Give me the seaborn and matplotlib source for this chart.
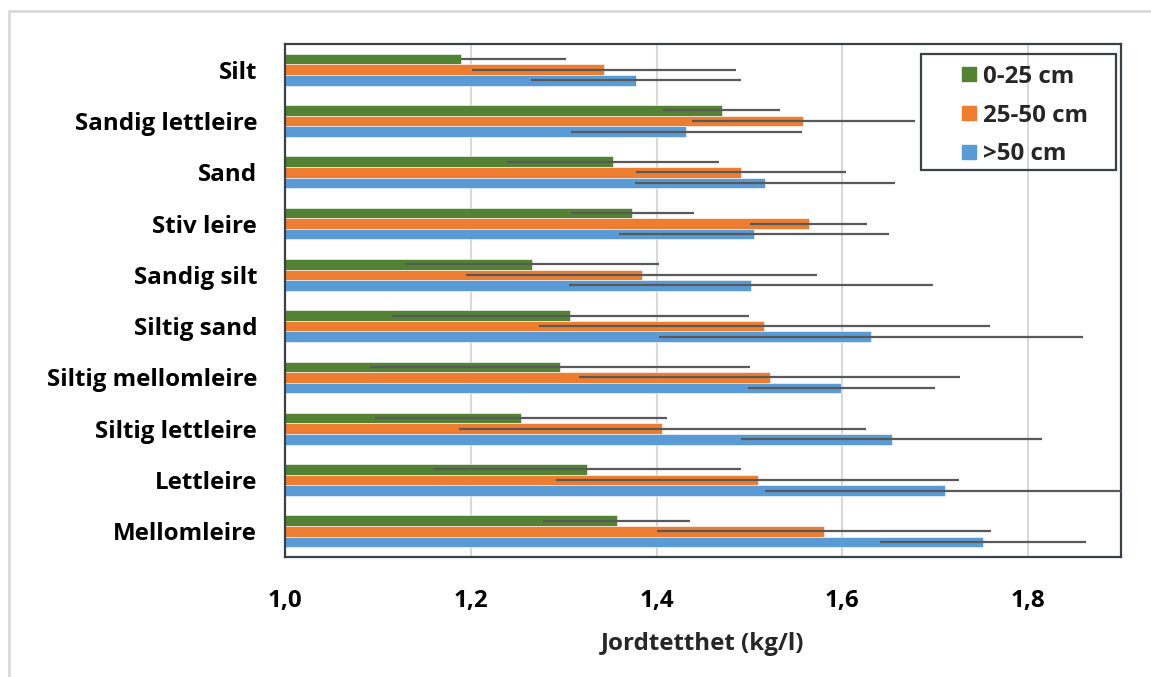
import numpy as np
import pandas as pd
import seaborn as sns
import matplotlib.pyplot as plt
from matplotlib.lines import Line2D
from matplotlib.patches import Rectangle
from matplotlib.ticker import FuncFormatter, MultipleLocator

# Soil texture classes (top to bottom) and depth intervals
soil_types = ["Silt", "Sandig lettleire", "Sand", "Stiv leire", "Sandig silt",
              "Siltig sand", "Siltig mellomleire", "Siltig lettleire",
              "Lettleire", "Mellomleire"]
depths = ["0-25 cm", "25-50 cm", ">50 cm"]

# Mean bulk density (kg/l) per depth interval
density_0_25 = [1.190, 1.470, 1.353, 1.374, 1.266, 1.307, 1.296, 1.254, 1.325, 1.357]
density_25_50 = [1.343, 1.558, 1.491, 1.564, 1.384, 1.516, 1.522, 1.406, 1.509, 1.580]
density_50 = [1.378, 1.432, 1.517, 1.505, 1.502, 1.631, 1.599, 1.653, 1.711, 1.751]

# Error bar extents below / above the mean
err_lo_0_25 = [0.000, 0.063, 0.114, 0.066, 0.137, 0.192, 0.205, 0.157, 0.166, 0.079]
err_hi_0_25 = [0.112, 0.063, 0.114, 0.066, 0.137, 0.192, 0.205, 0.157, 0.166, 0.079]
err_lo_25_50 = [0.142, 0.120, 0.113, 0.063, 0.189, 0.243, 0.205, 0.219, 0.217, 0.180]
err_hi_25_50 = [0.142, 0.120, 0.113, 0.063, 0.189, 0.243, 0.205, 0.219, 0.217, 0.180]
err_lo_50 = [0.113, 0.124, 0.140, 0.145, 0.196, 0.228, 0.101, 0.162, 0.194, 0.111]
err_hi_50 = [0.113, 0.124, 0.140, 0.145, 0.196, 0.228, 0.101, 0.162, 0.194, 0.111]

colors = ["#548235", "#ED7D31", "#5B9BD5"]

series = [density_0_25, density_25_50, density_50]
err_lo = [err_lo_0_25, err_lo_25_50, err_lo_50]
err_hi = [err_hi_0_25, err_hi_25_50, err_hi_50]

df = pd.DataFrame({
    "soil": np.repeat([soil_types], 3, axis=0).ravel(),
    "depth": np.repeat(depths, len(soil_types)),
    "density": np.concatenate(series),
})

sns.set_theme(style="white")
plt.rcParams["font.family"] = ["Open Sans", "DejaVu Sans"]
plt.rcParams["font.weight"] = "bold"

FS = 17.4
FRAME = "#3b4048"

fig = plt.figure(figsize=(11.51, 6.77), dpi=100)
ax = fig.add_axes([0.2476, 0.1773, 0.7264, 0.7577])

sns.barplot(data=df, y="soil", x="density", hue="depth", orient="h",
            order=soil_types, hue_order=depths, palette=colors,
            width=0.62, gap=0, errorbar=None, saturation=1,
            edgecolor="white", linewidth=0.4, ax=ax, zorder=2)

# Error bars drawn at the centre of each bar
for container, vals, lo, hi in zip(ax.containers, series, err_lo, err_hi):
    ys = [p.get_y() + p.get_height() / 2 for p in container.patches]
    ax.errorbar(vals, ys, xerr=[lo, hi], fmt="none", ecolor="#595959",
                elinewidth=1.6, capsize=0, zorder=3)

ax.set_xlim(1.0, 1.9)
ax.set_ylim(len(soil_types) - 0.5, -0.5)
ax.xaxis.set_major_locator(MultipleLocator(0.2))
ax.xaxis.set_major_formatter(FuncFormatter(lambda v, _: f"{v:.1f}".replace(".", ",")))
ax.grid(axis="x", color="#d9d9d9", linewidth=1.5, zorder=0)
ax.set_axisbelow(True)

for s in ax.spines.values():
    s.set_color(FRAME)
    s.set_linewidth(1.6)

ax.tick_params(axis="both", length=0, labelsize=FS, colors="black")
ax.tick_params(axis="y", pad=20)
ax.tick_params(axis="x", pad=23)
for lab in ax.get_xticklabels() + ax.get_yticklabels():
    lab.set_fontweight("bold")

ax.set_ylabel("")
ax.set_xlabel("Jordtetthet (kg/l)", fontsize=FS, fontweight="bold", labelpad=14)

# Legend: entries without their own frame, inside a separately drawn box
ax.get_legend().remove()
handles = [Line2D([], [], marker="s", linestyle="none", markersize=10,
                  markerfacecolor=c, markeredgecolor=c) for c in colors]
leg = ax.legend(handles, depths, loc="upper left", bbox_to_anchor=(0.808, 0.960),
                borderaxespad=0, frameon=False,
                prop={"size": FS, "weight": "bold"}, labelspacing=0.62,
                handlelength=0.7, handletextpad=0.22, borderpad=0)
leg.set_zorder(6)
ax.add_patch(Rectangle((0.761, 0.754), 0.233, 0.2265, transform=ax.transAxes,
                       facecolor="none", edgecolor=FRAME, linewidth=1.6,
                       zorder=5, clip_on=False))

# Light outer chart border
fig.add_artist(Line2D([0.0078, 1.0], [0.9838, 0.9838], color="#d9d9d9", lw=2))
fig.add_artist(Line2D([0.0078, 0.0078], [0.0, 0.9838], color="#d9d9d9", lw=2))

fig.savefig("out.png", dpi=100)
